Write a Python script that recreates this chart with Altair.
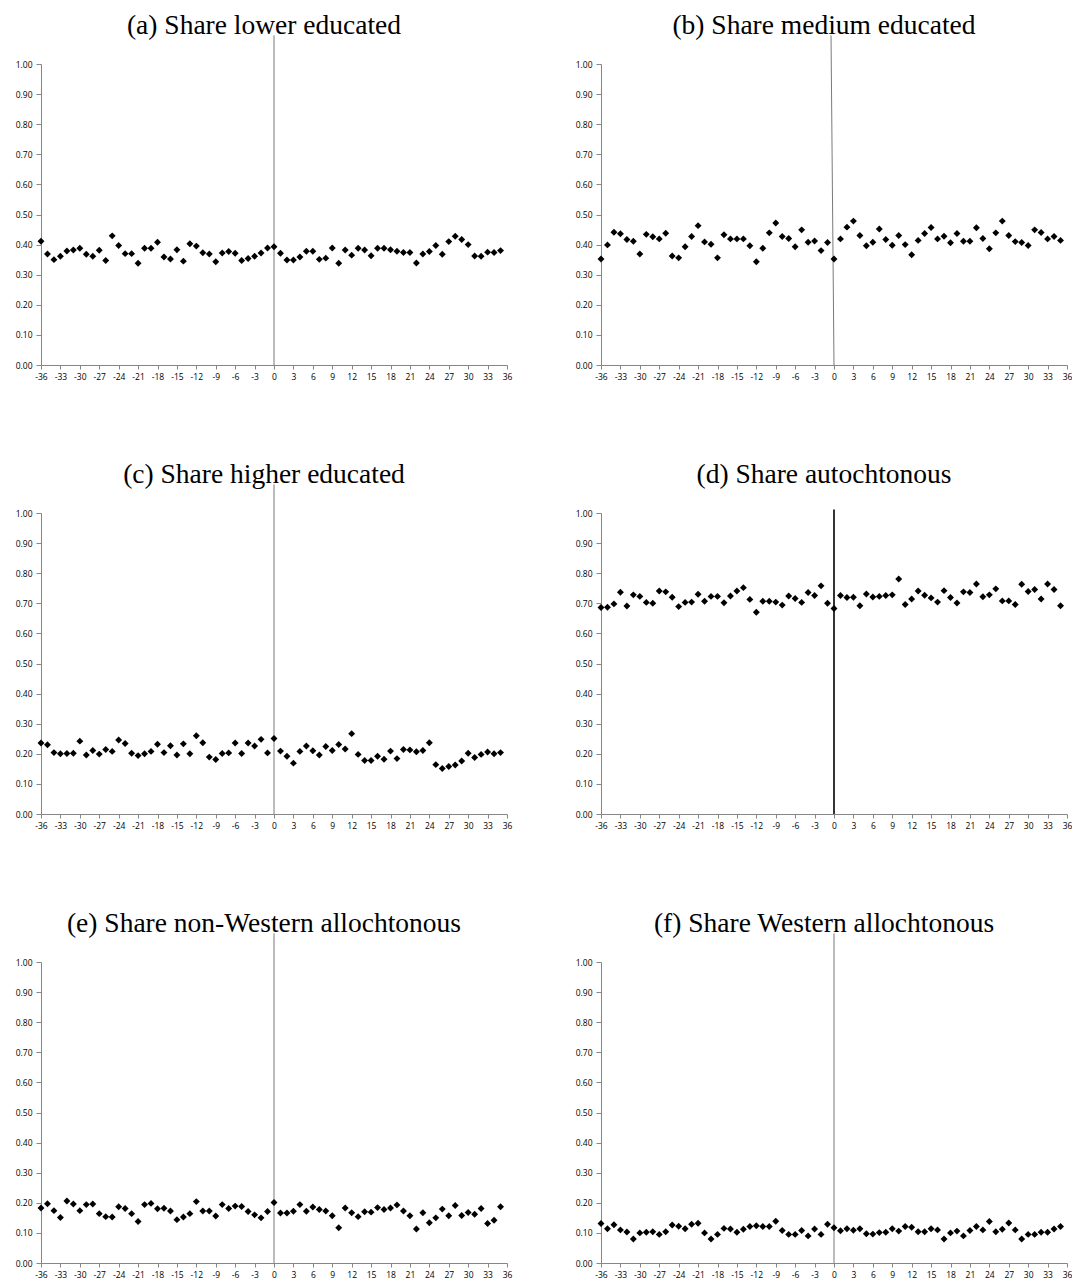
import altair as alt
import pandas as pd

months = list(range(-36, 36))

share_lower = [0.411, 0.369, 0.350, 0.361, 0.379, 0.382, 0.388, 0.368, 0.361, 0.381, 0.347, 0.429,
               0.397, 0.370, 0.370, 0.338, 0.388, 0.388, 0.408, 0.359, 0.352, 0.383, 0.345, 0.403,
               0.395, 0.373, 0.369, 0.343, 0.372, 0.377, 0.371, 0.347, 0.354, 0.361, 0.372, 0.389,
               0.393,
               0.371, 0.349, 0.349, 0.359, 0.378, 0.378, 0.351, 0.355, 0.389, 0.338, 0.382, 0.365,
               0.388, 0.382, 0.363, 0.388, 0.388, 0.383, 0.378, 0.374, 0.374, 0.339, 0.369, 0.377,
               0.397, 0.368, 0.410, 0.428, 0.417, 0.400, 0.362, 0.361, 0.375, 0.374, 0.380]

share_medium = [0.352, 0.399, 0.441, 0.436, 0.417, 0.411, 0.369, 0.434, 0.426, 0.419, 0.438, 0.362,
                0.356, 0.393, 0.427, 0.463, 0.409, 0.401, 0.356, 0.433, 0.419, 0.419, 0.419, 0.396,
                0.343, 0.388, 0.439, 0.472, 0.427, 0.420, 0.393, 0.449, 0.408, 0.412, 0.380, 0.407,
                0.352,
                0.419, 0.458, 0.478, 0.430, 0.396, 0.408, 0.452, 0.417, 0.398, 0.430, 0.400, 0.366,
                0.414, 0.437, 0.457, 0.419, 0.428, 0.406, 0.437, 0.411, 0.411, 0.456, 0.420, 0.386,
                0.439, 0.478, 0.430, 0.410, 0.407, 0.397, 0.449, 0.440, 0.419, 0.427, 0.414]

share_higher = [0.236, 0.230, 0.204, 0.200, 0.201, 0.202, 0.242, 0.196, 0.211, 0.199, 0.214, 0.208,
                0.246, 0.234, 0.202, 0.194, 0.200, 0.208, 0.232, 0.204, 0.227, 0.196, 0.233, 0.200,
                0.260, 0.237, 0.189, 0.181, 0.201, 0.203, 0.236, 0.201, 0.236, 0.226, 0.248, 0.203,
                0.251,
                0.209, 0.192, 0.169, 0.208, 0.226, 0.210, 0.196, 0.224, 0.211, 0.231, 0.216, 0.267,
                0.198, 0.178, 0.178, 0.192, 0.182, 0.209, 0.184, 0.214, 0.213, 0.207, 0.211, 0.237,
                0.164, 0.151, 0.158, 0.163, 0.176, 0.202, 0.188, 0.198, 0.206, 0.200, 0.204]

share_autochtonous = [0.686, 0.687, 0.698, 0.737, 0.691, 0.728, 0.723, 0.703, 0.700, 0.741, 0.738, 0.720,
                      0.689, 0.703, 0.704, 0.730, 0.707, 0.723, 0.723, 0.702, 0.724, 0.741, 0.752, 0.713,
                      0.670, 0.707, 0.707, 0.704, 0.694, 0.724, 0.716, 0.703, 0.736, 0.726, 0.758, 0.700,
                      0.683,
                      0.726, 0.719, 0.720, 0.692, 0.731, 0.721, 0.723, 0.726, 0.728, 0.781, 0.696, 0.714,
                      0.741, 0.727, 0.718, 0.704, 0.742, 0.719, 0.701, 0.738, 0.736, 0.764, 0.722, 0.728,
                      0.748, 0.708, 0.708, 0.696, 0.763, 0.739, 0.746, 0.714, 0.764, 0.746, 0.692]

share_nonwestern = [0.183, 0.197, 0.174, 0.151, 0.206, 0.196, 0.174, 0.194, 0.196, 0.164, 0.154, 0.153,
                    0.187, 0.181, 0.164, 0.138, 0.194, 0.198, 0.180, 0.182, 0.173, 0.144, 0.153, 0.164,
                    0.204, 0.173, 0.173, 0.156, 0.194, 0.181, 0.189, 0.188, 0.171, 0.160, 0.150, 0.171,
                    0.201,
                    0.166, 0.166, 0.172, 0.194, 0.172, 0.186, 0.178, 0.173, 0.157, 0.117, 0.183, 0.167,
                    0.154, 0.170, 0.169, 0.184, 0.178, 0.183, 0.193, 0.173, 0.157, 0.113, 0.167, 0.134,
                    0.150, 0.179, 0.157, 0.191, 0.158, 0.168, 0.162, 0.181, 0.131, 0.142, 0.187]

share_western = [0.131, 0.114, 0.127, 0.110, 0.103, 0.080, 0.100, 0.102, 0.104, 0.095, 0.104, 0.126,
                 0.122, 0.114, 0.129, 0.132, 0.100, 0.080, 0.095, 0.115, 0.113, 0.102, 0.112, 0.121,
                 0.124, 0.121, 0.121, 0.139, 0.108, 0.095, 0.095, 0.108, 0.090, 0.113, 0.095, 0.129,
                 0.117,
                 0.107, 0.114, 0.109, 0.114, 0.097, 0.096, 0.101, 0.102, 0.114, 0.106, 0.121, 0.119,
                 0.104, 0.104, 0.114, 0.110, 0.080, 0.100, 0.106, 0.090, 0.108, 0.121, 0.110, 0.138,
                 0.104, 0.112, 0.133, 0.110, 0.080, 0.095, 0.095, 0.102, 0.102, 0.113, 0.121]

titles = ["(a) Share lower educated", "(b) Share medium educated", "(c) Share higher educated",
          "(d) Share autochtonous", "(e) Share non-Western allochtonous", "(f) Share Western allochtonous"]

x_ticks = list(range(-36, 37, 3))
y_ticks = [round(i * 0.1, 1) for i in range(11)]

W, H = 466, 301
AX_FONT = "Open Sans"
AX_GRAY = "#868686"


def panel(vals, title, line_top=1.095, line_color="#7a7a7a", line_width=1.0, x_top=0.0):
    df = pd.DataFrame({"month": months, "share": vals})
    xs = alt.Scale(domain=[-36, 36], nice=False, zero=False)
    ys = alt.Scale(domain=[0, 1], nice=False, zero=True)
    xaxis = alt.Axis(values=x_ticks, title=None, grid=False, labelFont=AX_FONT, labelFontSize=8.5,
                     labelColor="#000000", domainColor=AX_GRAY, tickColor=AX_GRAY, tickSize=4,
                     labelPadding=3, labelAngle=0, labelOverlap=False, labelFlush=False,
                     labelExpr="'' + datum.value")
    yaxis = alt.Axis(values=y_ticks, format=".2f", title=None, grid=False, labelFont=AX_FONT,
                     labelFontSize=8.5, labelColor="#000000", domainColor=AX_GRAY, tickColor=AX_GRAY,
                     tickSize=5, labelPadding=4, labelOverlap=False)
    pts = alt.Chart(df).mark_point(shape="diamond", filled=True, size=48, color="#000000",
                                   opacity=1).encode(
        x=alt.X("month:Q", scale=xs, axis=xaxis),
        y=alt.Y("share:Q", scale=ys, axis=yaxis),
    )
    line_df = pd.DataFrame({"xa": [x_top], "xb": [0.0], "ya": [line_top], "yb": [0.0]})
    rule = alt.Chart(line_df).mark_rule(color=line_color, strokeWidth=line_width).encode(
        x=alt.X("xa:Q", scale=xs, axis=xaxis),
        x2="xb:Q",
        y=alt.Y("ya:Q", scale=ys, axis=yaxis),
        y2="yb:Q",
    )
    txt = alt.Chart(pd.DataFrame({"t": [title]})).mark_text(
        font="Liberation Serif", fontSize=27.5, baseline="middle", align="center", color="#000000"
    ).encode(text="t:N", x=alt.value(223), y=alt.value(-38.5))
    return alt.layer(rule, pts, txt).properties(width=W, height=H)


pa = panel(share_lower, titles[0])
pb = panel(share_medium, titles[1], x_top=-0.46)
pc = panel(share_higher, titles[2])
pd_ = panel(share_autochtonous, titles[3], line_top=1.012, line_color="#000000", line_width=1.6)
pe = panel(share_nonwestern, titles[4])
pf = panel(share_western, titles[5])

row1 = alt.hconcat(pa, pb, spacing=63)
row2 = alt.hconcat(pc, pd_, spacing=63)
row3 = alt.hconcat(pe, pf, spacing=63)

chart = alt.vconcat(row1, row2, row3, spacing=79).properties(
    padding={"left": 7, "top": 3, "right": 0, "bottom": 0}
).configure_view(stroke=None)

chart.save("out.html", embed_options={"renderer": "svg", "actions": False})
